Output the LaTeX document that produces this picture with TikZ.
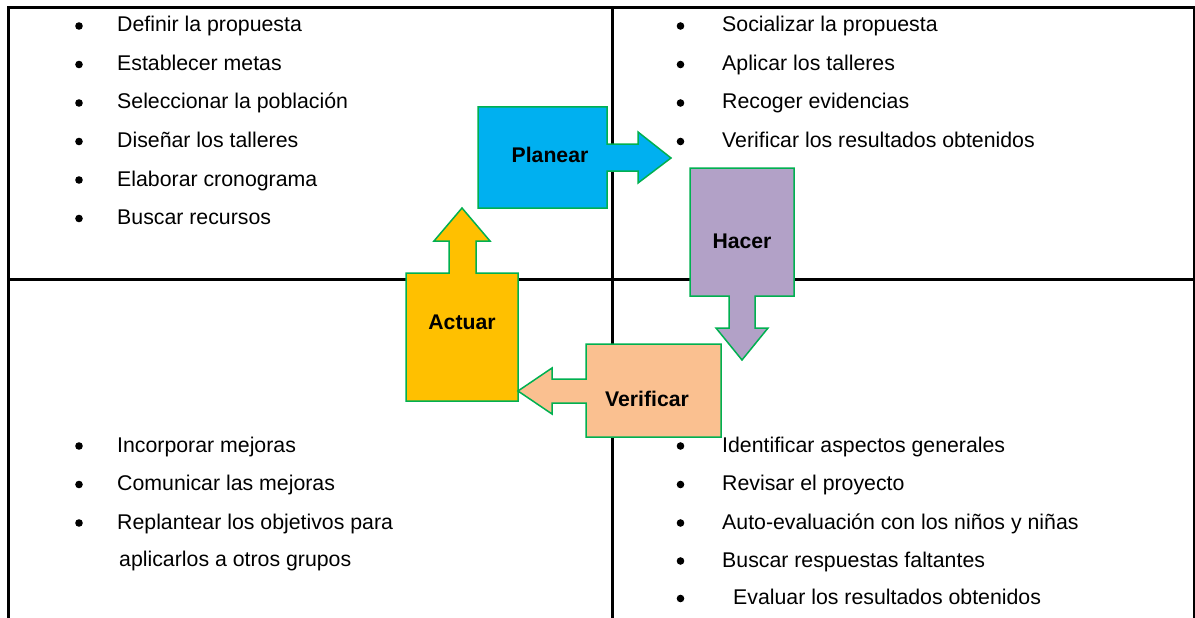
\documentclass[tikz,border=0pt]{standalone}
\usepackage{fontspec}
\setmainfont{Liberation Sans}
\definecolor{gframe}{HTML}{00B050}
\definecolor{cplan}{HTML}{00B0F0}
\definecolor{chacer}{HTML}{B2A1C7}
\definecolor{cactuar}{HTML}{FFC000}
\definecolor{cverif}{HTML}{FAC090}
\begin{document}
\begin{tikzpicture}[x=1pt,y=-1pt,
  grid/.style={line width=3pt,black},
  cyc/.style={draw=gframe,line width=1.5pt,line join=miter},
  lbl/.style={font=\fontsize{21.2}{25}\selectfont\bfseries,inner sep=0pt},
  item/.style={anchor=base west,font=\fontsize{21.3}{25}\selectfont,inner sep=0pt},
  bul/.style={fill=black}]
\useasboundingbox (0,0) rectangle (1195,618);
\fill[white] (0,0) rectangle (1195,618);
% grid
\draw[grid] (8.5,618) -- (8.5,7.5) -- (1194,7.5) -- (1194,618);
\draw[grid] (612.5,7.5) -- (612.5,618);
\draw[grid] (8.5,279) -- (1194,279);
% cycle shapes
\path[cyc,fill=cplan] (478,107) -- (607,107) -- (607,144) -- (638,144) -- (638,132) -- (671,158) -- (638,183) -- (638,171) -- (607,171) -- (607,208) -- (478,208) -- cycle;
\path[cyc,fill=chacer] (690,168) -- (794,168) -- (794,296) -- (755,296) -- (755,328) -- (768,328) -- (742,360) -- (716,328) -- (729,328) -- (729,296) -- (690,296) -- cycle;
\path[cyc,fill=cactuar] (406,401) -- (406,273) -- (449,273) -- (449,241) -- (434,241) -- (462,208) -- (490,241) -- (476,241) -- (476,273) -- (518,273) -- (518,401) -- cycle;
\path[cyc,fill=cverif] (721,344) -- (721,437) -- (586,437) -- (586,403) -- (552,403) -- (552,414) -- (518,391) -- (552,368) -- (552,379) -- (586,379) -- (586,344) -- cycle;
\node[lbl] (planear) at (550,155) {Planear};
\node[lbl] (hacer) at (742,241) {Hacer};
\node[lbl] (actuar) at (462,322) {Actuar};
\node[lbl] (verificar) at (647,399) {Verificar};
% top-left
\foreach \t/\y [count=\i] in {Definir la propuesta/32, Establecer metas/70.5, Seleccionar la población/109, Diseñar los talleres/147.5, Elaborar cronograma/186, Buscar recursos/224.5}{
  \fill[bul] (79,\y-6) circle (3.8);
  \node[item] (tl\i) at (117,\y) {\t};
}
% top-right
\foreach \t/\y [count=\i] in {Socializar la propuesta/32, Aplicar los talleres/70.5, Recoger evidencias/109, Verificar los resultados obtenidos/147.5}{
  \fill[bul] (680.5,\y-6) circle (3.8);
  \node[item] (tr\i) at (722,\y) {\t};
}
% bottom-left
\foreach \t/\y [count=\i] in {Incorporar mejoras/452, Comunicar las mejoras/490.5, Replantear los objetivos para/529}{
  \fill[bul] (79,\y-6) circle (3.8);
  \node[item] (bl\i) at (117,\y) {\t};
}
\node[item] (bl4) at (119,566) {aplicarlos a otros grupos};
% bottom-right
\foreach \t/\y [count=\i] in {Identificar aspectos generales/452, Revisar el proyecto/490.5, Auto-evaluación con los niños y niñas/529, Buscar respuestas faltantes/567}{
  \fill[bul] (680.5,\y-6) circle (3.8);
  \node[item] (br\i) at (722,\y) {\t};
}
\fill[bul] (680.5,604.5-6) circle (3.8);
\node[item] (br5) at (733,604.5) {Evaluar los resultados obtenidos};
\end{tikzpicture}
\end{document}
